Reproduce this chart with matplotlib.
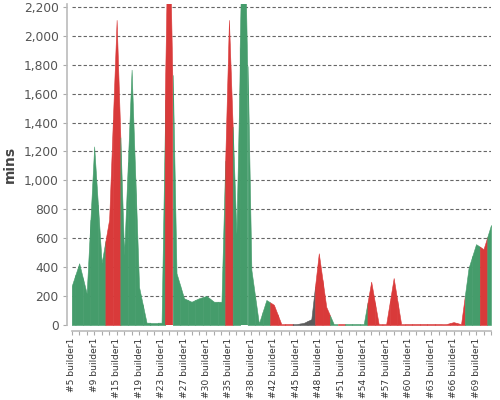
import matplotlib
matplotlib.use("Agg")
import matplotlib.pyplot as plt
import numpy as np

# build durations (mins), one entry per build
minutes = [270, 427, 219, 1235, 430, 730, 2110, 485, 1766, 262,
           16, 16, 16, 3100, 358, 185, 161, 185, 201, 161,
           161, 2110, 632, 3200, 381, 10, 173, 140, 6, 6,
           6, 15, 40, 496, 125, 6, 6, 6, 6, 6,
           300, 6, 6, 325, 6, 6, 6, 6, 6, 6,
           6, 20, 6, 394, 559, 525, 692]

# g = success, r = failure, k = other
status = ["g", "g", "g", "g", "g", "r", "r", "g", "g", "g",
          "g", "g", "g", "r", "g", "g", "g", "g", "g", "g",
          "g", "r", "g", "g", "g", "g", "g", "r", "r", "r",
          "k", "k", "k", "r", "r", "g", "r", "g", "g", "g",
          "r", "r", "r", "r", "r", "r", "r", "r", "r", "r",
          "r", "r", "r", "g", "g", "r", "g"]

tick_labels = ["#5 builder1", "#9 builder1", "#15 builder1", "#19 builder1",
               "#23 builder1", "#27 builder1", "#30 builder1", "#35 builder1",
               "#38 builder1", "#42 builder1", "#45 builder1", "#48 builder1",
               "#51 builder1", "#54 builder1", "#57 builder1", "#60 builder1",
               "#63 builder1", "#66 builder1", "#69 builder1"]

colors = {"g": "#459c6b", "r": "#d93a3a", "k": "#5b5b5b"}

fig = plt.figure(figsize=(5, 4), dpi=100)
ax = fig.add_axes([71.7 / 500, 75 / 400, (491 - 71.7) / 500, 321 / 400])

y = np.array(minutes, dtype=float)
n = len(y)
for i in range(n):
    left = (y[i - 1] + y[i]) / 2 if i > 0 else y[i]
    right = (y[i] + y[i + 1]) / 2 if i < n - 1 else y[i]
    xs = [max(i - 0.5, 0), i, min(i + 0.5, n - 1)]
    c = colors[status[i]]
    ax.fill_between(xs, [left, y[i], right], color=c, lw=0.4, edgecolor=c)

ax.set_xlim(0, n - 1)
ax.set_ylim(0, 2220)

ax.set_yticks(np.arange(0, 2201, 200))
ax.set_yticklabels([f"{v:,}" for v in range(0, 2201, 200)])
ax.yaxis.grid(True, linestyle=(0, (3, 2)), color="#666666", lw=0.8)
ax.set_axisbelow(True)

all_labels = [""] * n
for k, lab in enumerate(tick_labels):
    all_labels[k * 3] = lab
ax.set_xticks(range(n))
ax.set_xticklabels(all_labels)

ax.tick_params(axis="y", labelsize=8.8, labelcolor="#555555", length=3,
               color="#aaaaaa", pad=3)
ax.tick_params(axis="x", length=3, color="#aaaaaa", pad=1.5, labelsize=6.6,
               labelcolor="#333333", labelrotation=90)

for side in ["top", "right"]:
    ax.spines[side].set_visible(False)
ax.spines["left"].set_position(("outward", 3.5))
ax.spines["bottom"].set_position(("outward", 4.5))
for side in ["left", "bottom"]:
    ax.spines[side].set_color("#bbbbbb")
    ax.spines[side].set_linewidth(1.2)

ax.set_ylabel("mins", fontsize=10, fontweight="bold", color="#444444",
              labelpad=5)

fig.savefig("out.png", dpi=100)
